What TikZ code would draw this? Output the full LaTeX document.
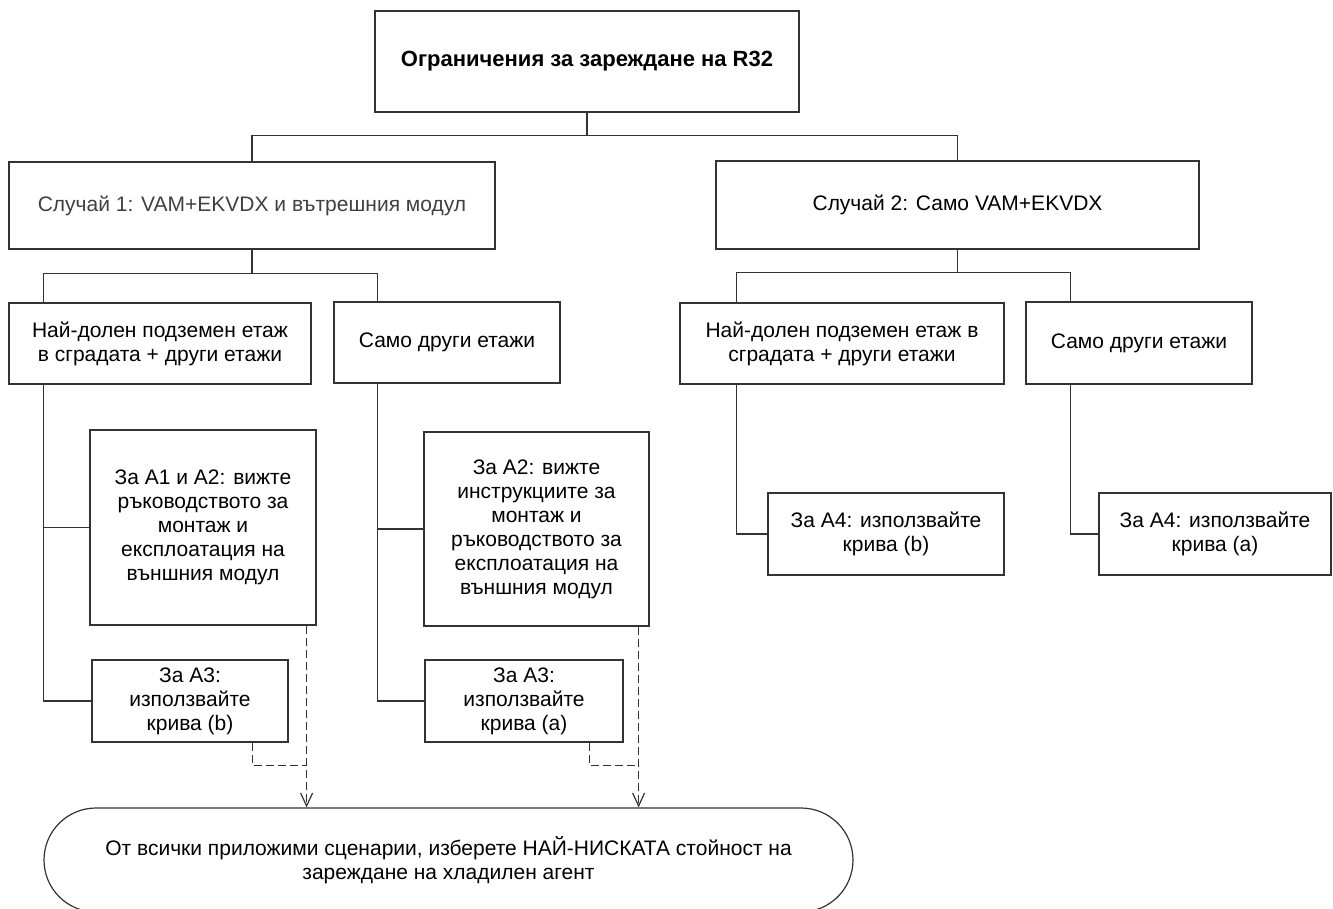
\documentclass[tikz,border=0pt]{standalone}
\usepackage{fontspec}
\setmainfont{Liberation Sans}
\usetikzlibrary{arrows.meta,calc,shapes.misc}

\begin{document}
\begin{tikzpicture}[x=1pt,y=-1pt,>={Straight Barb[length=13pt,width=12pt]},line width=1.2pt]
    \tikzstyle{b}=[draw=black!80, align=center, inner sep=2pt, font=\fontsize{21}{24}\selectfont]
    \tikzstyle{ln}=[draw=black!80]
    \tikzstyle{dsh}=[draw=black!80, dash pattern=on 8pt off 4pt]

    \useasboundingbox (0,0) rectangle (1333,909);

    \node[b, minimum width=424, minimum height=101, font=\fontsize{22}{25}\selectfont\bfseries] (lim) at (587,61.5) {Ограничения за зареждане на R32};

    \node[b, minimum width=486, minimum height=87, text=black!75] (c1) at (252,205.5) {Случай 1: VAM+EKVDX и вътрешния модул};
    \node[b, minimum width=483, minimum height=88] (c2) at (957.5,205) {Случай 2: Само VAM+EKVDX};

    \node[b, minimum width=302, minimum height=81] (c1l) at (160,343.5) {Най-долен подземен етаж\\в сградата + други етажи};
    \node[b, minimum width=226, minimum height=81] (c1r) at (447,342.5) {Само други етажи};
    \node[b, minimum width=324, minimum height=81] (c2l) at (842,343.5) {Най-долен подземен етаж в\\сградата + други етажи};
    \node[b, minimum width=226, minimum height=82] (c2r) at (1139,343) {Само други етажи};

    \node[b, minimum width=226, minimum height=195] (a12) at (203,527.5) {За А1 и А2: вижте\\ръководството за\\монтаж и\\експлоатация на\\външния модул};
    \node[b, minimum width=225, minimum height=194] (a2) at (536.5,529) {За А2: вижте\\инструкциите за\\монтаж и\\ръководството за\\експлоатация на\\външния модул};
    \node[b, minimum width=196, minimum height=82] (a3b) at (190,701) {За А3:\\използвайте\\крива (b)};
    \node[b, minimum width=198, minimum height=82] (a3a) at (524,701) {За А3:\\използвайте\\крива (а)};
    \node[b, minimum width=236, minimum height=82] (a4b) at (886,534) {За А4: използвайте\\крива (b)};
    \node[b, minimum width=232, minimum height=82] (a4a) at (1215,534) {За А4: използвайте\\крива (а)};

    \node[b, rounded rectangle, minimum width=813, minimum height=104] (fin) at (448.5,860) {От всички приложими сценарии, изберете НАЙ-НИСКАТА стойност на\\зареждане на хладилен агент};

    \draw[ln] (lim.south) -- ++(0,23) -| (c1.north);
    \draw[ln] (lim.south) -- ++(0,23) -| (c2.north);

    \draw[ln] (c1.south) -- ++(0,24) -| ($(c1l.north west)+(35,0)$);
    \draw[ln] (c1.south) -- ++(0,24) -| ($(c1r.north west)+(44,0)$);
    \draw[ln] (c2.south) -- ++(0,23) -| ($(c2l.north west)+(57,0)$);
    \draw[ln] (c2.south) -- ++(0,23) -| ($(c2r.north west)+(45,0)$);

    \draw[ln] ($(c1l.south west)+(35,0)$) |- (a12.west);
    \draw[ln] ($(c1l.south west)+(35,0)$) |- (a3b.west);
    \draw[ln] ($(c1r.south west)+(44,0)$) |- (a2.west);
    \draw[ln] ($(c1r.south west)+(44,0)$) |- (a3a.west);
    \draw[ln] ($(c2l.south west)+(57,0)$) |- (a4b.west);
    \draw[ln] ($(c2r.south west)+(45,0)$) |- (a4a.west);

    \coordinate (d1) at ($(a12.south east)+(-10,0)$);
    \coordinate (d2) at ($(a2.south east)+(-11,0)$);
    \draw[dsh,->] (d1) -- (d1 |- fin.north);
    \draw[dsh,->] (d2) -- (d2 |- fin.north);
    \draw[dsh] ($(a3b.south east)+(-36,0)$) |- ($(d1)+(0,140)$);
    \draw[dsh] ($(a3a.south east)+(-34,0)$) |- ($(d2)+(0,139)$);
\end{tikzpicture}
\end{document}
